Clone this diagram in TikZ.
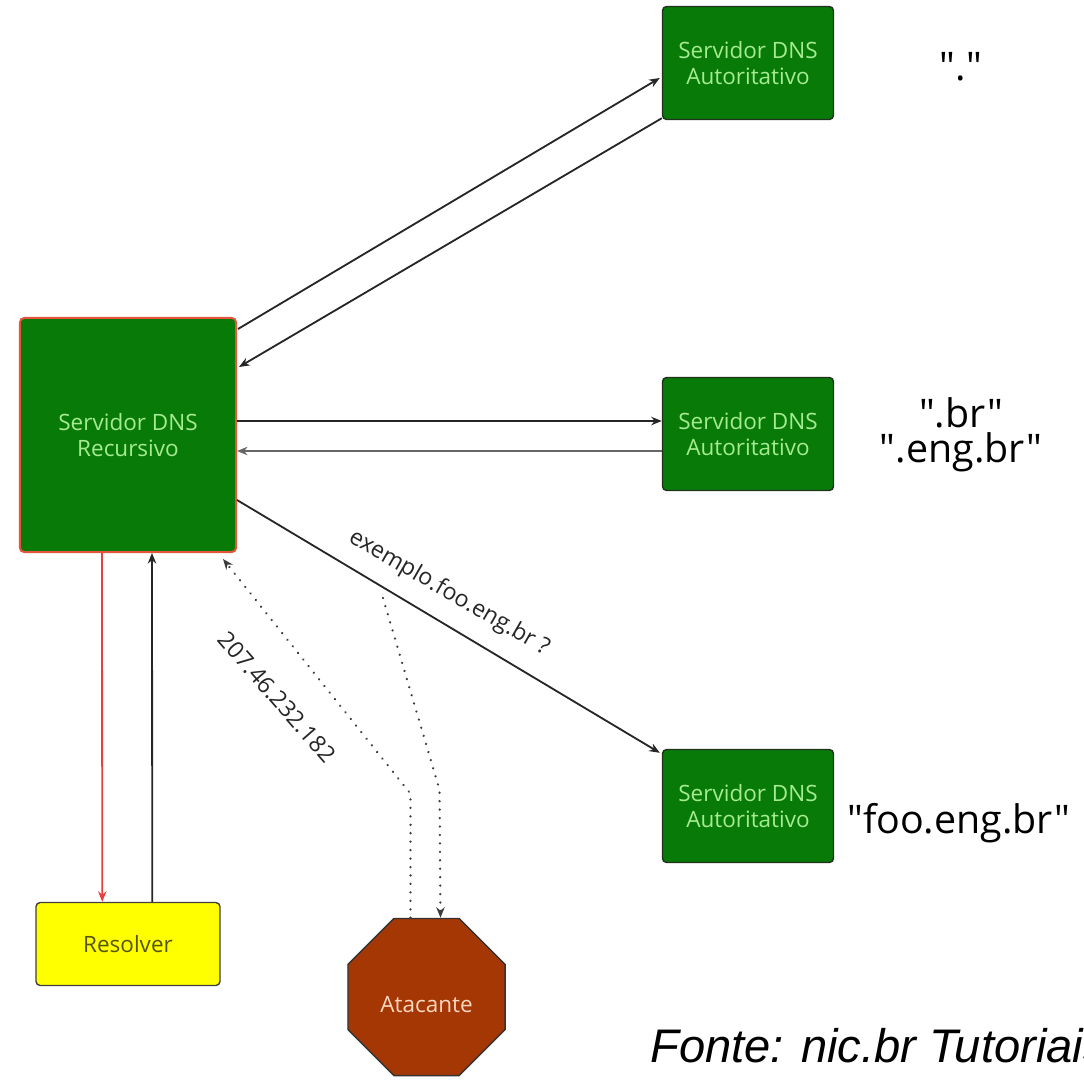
\documentclass[tikz,border=0pt]{standalone}
\usepackage{fontspec}
\setmainfont{Open Sans}
\newfontfamily\osf{Open Sans}
\newfontfamily\fontefont{Liberation Sans}
\usetikzlibrary{arrows.meta,shapes.geometric,calc}
\definecolor{boxgreen}{RGB}{8,122,8}
\definecolor{boxtext}{RGB}{165,235,145}
\definecolor{recred}{RGB}{228,84,62}
\definecolor{authborder}{RGB}{30,50,30}
\definecolor{resyellow}{RGB}{255,255,0}
\definecolor{restext}{RGB}{85,85,10}
\definecolor{atkfill}{RGB}{165,55,5}
\definecolor{atktext}{RGB}{250,215,190}
\definecolor{arrred}{RGB}{230,64,64}
\definecolor{dotgray}{RGB}{60,60,60}
\begin{document}
\begin{tikzpicture}[x=0.025cm,y=-0.025cm,
  boxfont/.style={font=\osf\fontsize{16}{18.5}\selectfont},
  recbox/.style={boxfont,draw=recred,fill=boxgreen,line width=1.4pt,rounded corners=3pt,
    minimum width=5.4cm,minimum height=5.85cm,align=center,text=boxtext},
  authbox/.style={boxfont,draw=authborder,fill=boxgreen,line width=1pt,rounded corners=3pt,
    minimum width=4.275cm,minimum height=2.825cm,align=center,text=boxtext},
  resbox/.style={boxfont,draw=black!75,fill=resyellow,line width=1pt,rounded corners=3pt,
    minimum width=4.6cm,minimum height=2.075cm,text=restext},
  atkbox/.style={boxfont,regular polygon,regular polygon sides=8,draw=black!80,fill=atkfill,
    line width=1pt,minimum size=4.25cm,inner sep=0pt,text=atktext},
  biglabel/.style={font=\osf\fontsize{28}{34}\selectfont,inner sep=0pt},
  smalllabel/.style={font=\osf\fontsize{16.5}{19}\selectfont,inner sep=0pt,text=black!85},
  fonte/.style={font=\fontefont\itshape\fontsize{33.5}{40}\selectfont,inner sep=0pt},
  arr/.style={-{Stealth[length=7.5pt,width=6pt]},line width=1.3pt,black!85},
  darr/.style={-{Stealth[length=7.5pt,width=6pt]},line width=1.8pt,dotgray,
    dash pattern=on 0.01pt off 6pt,line cap=round}]
\useasboundingbox (0,0) rectangle (1084,1079);
\clip (0,0) rectangle (1084,1079);

\node[recbox] (rec) at (128,435) {Servidor DNS\\Recursivo};
\node[authbox] (a1) at (748,63) {Servidor DNS\\Autoritativo};
\node[authbox] (a2) at (748,434) {Servidor DNS\\Autoritativo};
\node[authbox] (a3) at (748,806) {Servidor DNS\\Autoritativo};
\node[resbox] (res) at (128,944) {Resolver};
\node[atkbox] (atk) at (426.5,997) {\smash{\raisebox{-11pt}{Atacante}}};

\node[biglabel,anchor=base] (lroot) at (961,80) {"."};
\node[biglabel,anchor=base] (lbr) at (961,427) {".br"};
\node[biglabel,anchor=base] (lengbr) at (961,462) {".eng.br"};
\node[biglabel,anchor=base west] (lfoo) at (847,833) {"foo.eng.br"};
\node[fonte,anchor=base west] (src) at (650,1062) {Fonte: nic.br Tutoriais};

% connectors
\draw[arr] ($(rec.north east)+(1,12)$) -- ($(a1.west)+(-2,15)$);
\draw[arr] ($(a1.south west)+(0,-2)$) -- ($(rec.north east)+(2,50)$);
\draw[arr] ($(rec.east)+(0,-14)$) -- ($(a2.west)+(0,-13)$);
\draw[arr,black!60,line width=1.7pt] ($(a2.west)+(0,17)$) -- ($(rec.east)+(0,16)$);
\draw[arr] ($(rec.east)+(0,65)$) -- ($(a3.north west)+(-2,4)$);
\draw[arr,arrred] ($(rec.south west)+(83,0)$) -- ($(res.north west)+(67,0)$);
\draw[arr] ($(res.north west)+(117,0)$) -- ($(rec.south west)+(133,0)$);

\draw[darr] ($(atk.north)+(-16,0)$) -- ($(atk.north)+(-16,-124)$) -- ($(rec.south east)+(-14,6)$);
\coordinate (q) at (383,598);
\draw[darr] (q) -- ($(atk.north)+(13,-128)$) -- ($(atk.north)+(14,0)$);

\node[smalllabel,rotate=-30] (lq) at (449,593) {exemplo.foo.eng.br ?};
\node[smalllabel,rotate=-49] (lip) at (277,697) {207.46.232.182};
\end{tikzpicture}
\end{document}
